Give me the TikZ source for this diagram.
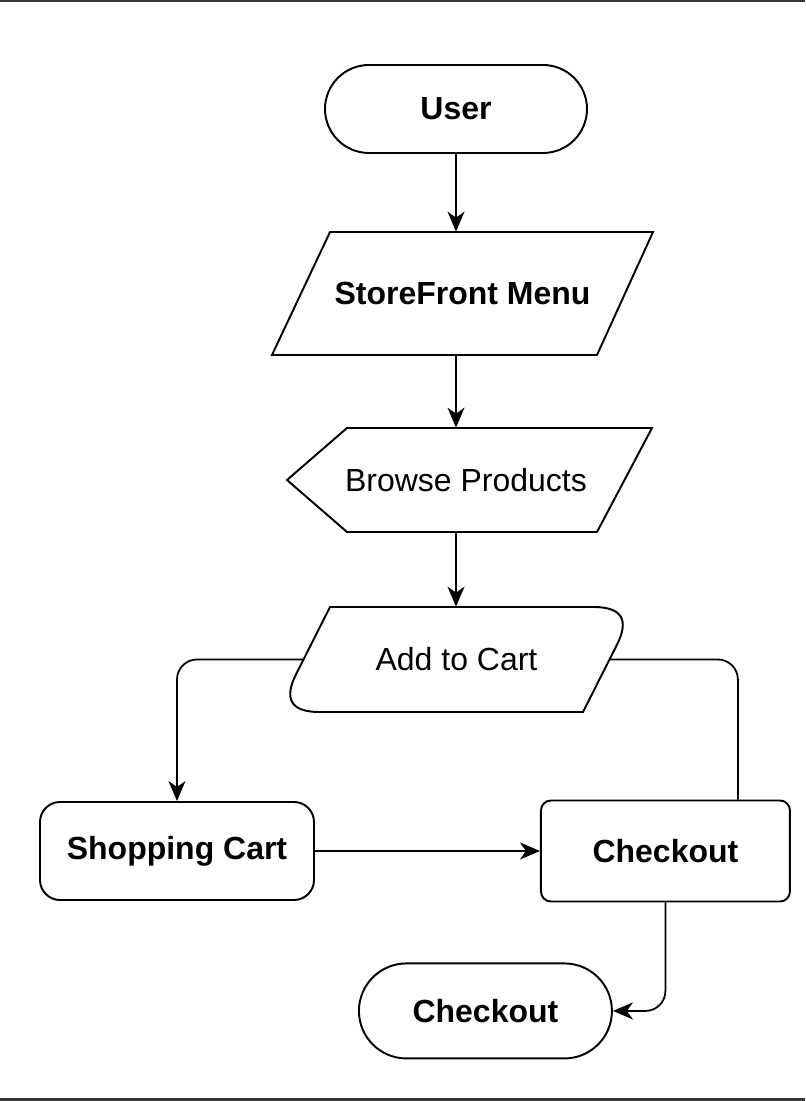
\documentclass[tikz,border=0pt]{standalone}
\usepackage{fontspec}
\setmainfont{Liberation Sans}
\usepackage{tikz}
\usetikzlibrary{shapes.geometric, arrows.meta, positioning, calc}
\definecolor{framegray}{RGB}{55,55,55}
\newcommand{\chartfont}{\fontsize{18.2}{22}\selectfont}
\tikzset{
    terminal/.style={rectangle, draw=black, line width=1.1pt, rounded corners=0.88cm,
                     text centered, align=center},
    block/.style={rectangle, draw=black, line width=1.1pt, text centered, align=center},
    plain/.style={rectangle, draw=none, text centered, align=center},
    outline/.style={line width=1.1pt, draw=black},
    arrow/.style={-{Stealth[length=0.4cm, width=0.34cm, inset=0.12cm]}, line width=1pt, color=black},
    link/.style={line width=1pt, color=black, rounded corners=0.4cm},
    frame/.style={line width=0.06cm, color=framegray}
}
\begin{document}
\begin{tikzpicture}[every node/.style={font=\chartfont}]
    \useasboundingbox (0,0) rectangle (16.1,22.02);
    \draw[frame] (0,22.0) -- (16.1,22.0);
    \draw[frame] (0,0.03) -- (16.1,0.03);

    \node[terminal, minimum width=5.24cm, minimum height=1.76cm] (user) at (9.12,19.84) {\bfseries User};
    \node[plain, minimum width=6.5cm, minimum height=2.46cm] (menu) at (9.25,16.15) {\bfseries StoreFront Menu};
    \node[plain, minimum width=6cm, minimum height=2.08cm] (browse) at (9.32,12.42) {Browse Products};
    \node[plain, minimum width=6.1cm, minimum height=2.1cm] (add) at (9.13,8.83) {Add to Cart};
    \node[block, rounded corners=0.4cm, minimum width=5.48cm, minimum height=1.96cm] (cart) at (3.54,5.0) {\bfseries Shopping Cart};
    \node[block, rounded corners=0.2cm, minimum width=4.98cm, minimum height=2.02cm, right=4.5cm of cart] (pay) {\bfseries Checkout};
    \node[terminal, rounded corners=0.95cm, minimum width=5.06cm, minimum height=1.9cm, below=1.2cm of pay, xshift=-3.6cm] (done) {\bfseries Checkout};

    % outlines of the slanted shapes
    \begin{scope}[shift={(menu.center)}]
        \draw[outline] (-2.65,1.23) -- (3.81,1.23) -- (2.69,-1.23) -- (-3.81,-1.23) -- cycle;
    \end{scope}
    \begin{scope}[shift={(browse.center)}]
        \draw[outline] (-3.58,0) -- (-2.38,1.04) -- (3.72,1.04) -- (2.62,-1.04) -- (-2.38,-1.04) -- cycle;
    \end{scope}
    \begin{scope}[shift={(add.center)}]
        \draw[outline] (-2.53,1.05) -- (2.74,1.05) .. controls (3.307,1.05) and (3.462,0.797) .. (3.207,0.291)
            -- (2.53,-1.05) -- (-2.74,-1.05) .. controls (-3.307,-1.05) and (-3.462,-0.797) .. (-3.207,-0.291) -- cycle;
    \end{scope}

    \draw[arrow] (user) -- (user |- menu.north);
    \draw[arrow] (user |- menu.south) -- (user |- browse.north);
    \draw[arrow] (user |- browse.south) -- (user |- add.north);
    \draw[arrow, rounded corners=0.4cm] (add.west) -| (cart.north);
    \draw[link] (add.east) -| ([xshift=-1.06cm]pay.north east);
    \draw[arrow] (cart) -- (pay);
    \draw[arrow, rounded corners=0.4cm] (pay.south) |- (done.east);
\end{tikzpicture}
\end{document}
